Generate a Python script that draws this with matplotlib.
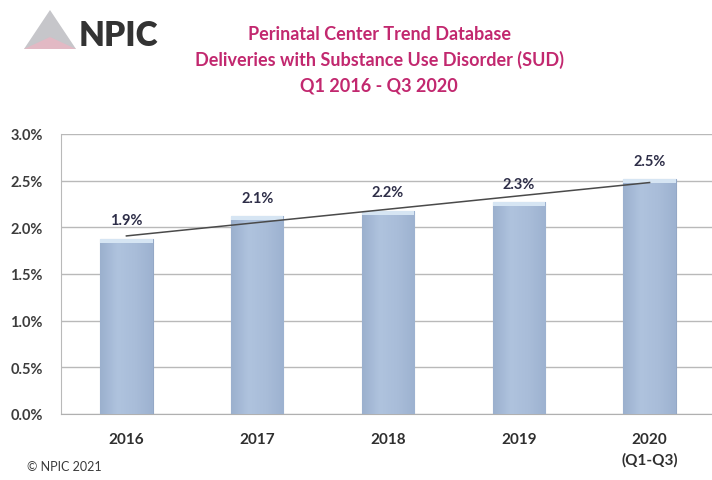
import numpy as np
import matplotlib
matplotlib.use("Agg")
import matplotlib.pyplot as plt
from matplotlib.patches import Polygon
from matplotlib.colors import LinearSegmentedColormap

plt.rcParams['font.family'] = ['Lato', 'DejaVu Sans']

# data
years = ['2016', '2017', '2018', '2019', '2020\n(Q1-Q3)']
sud_rate = [1.88, 2.12, 2.18, 2.27, 2.52]   # percent of deliveries
rate_labels = ['1.9%', '2.1%', '2.2%', '2.3%', '2.5%']
y_ticks = [0.0, 0.5, 1.0, 1.5, 2.0, 2.5, 3.0]

title_lines = ['Perinatal Center Trend Database',
               'Deliveries with Substance Use Disorder (SUD)',
               'Q1 2016 - Q3 2020']

fig = plt.figure(figsize=(7.12, 4.81), dpi=100)
ax = fig.add_axes([61 / 712, 66 / 481, 654 / 712, 280 / 481])

x = np.arange(len(years))
bar_w = 0.4

bars = ax.bar(x, sud_rate, width=bar_w, color='#a8bcd9', edgecolor='#94a8c6',
              linewidth=0.8, zorder=3)

# soft shading on each bar plus a light top rim
cmap = LinearSegmentedColormap.from_list('barshade',
                                         ['#9bb0ce', '#afc3de', '#a9bdd9', '#9db2d0'])
grad = np.tile(np.linspace(0, 1, 64), (64, 1))
cap = 0.045
for b in bars:
    x0, w, h = b.get_x(), b.get_width(), b.get_height()
    im = ax.imshow(grad, cmap=cmap, aspect='auto', extent=(x0, x0 + w, 0, h),
                   origin='lower', zorder=3.1)
    im.set_clip_path(b)
    ax.bar(b.get_x() + w / 2, cap, bottom=h - cap, width=w, color='#d6e5f3',
           edgecolor='none', zorder=3.2)

# linear trend line
k, c = np.polyfit(x, sud_rate, 1)
ax.plot(x, k * x + c, color='#4a4a4a', linewidth=1.1, zorder=4)

for xi, v, lab in zip(x, sud_rate, rate_labels):
    ax.annotate(lab, (xi, v), xytext=(0, 8), textcoords='offset points',
                ha='center', va='bottom', fontsize=10.5, fontweight='bold',
                color='#2e2e48', zorder=5)

ax.set_xlim(-0.5, len(years) - 0.5)
ax.set_ylim(0, 3.0)
ax.set_yticks(y_ticks)
ax.set_yticklabels([f'{t:.1f}%' for t in y_ticks], fontsize=10.5,
                   fontweight='bold', color='#3c3c3c')
ax.set_xticks(x)
ax.set_xticklabels(years, fontsize=11, fontweight='bold', color='#2f2f2f',
                   linespacing=1.5)
ax.tick_params(length=0, pad=13, axis='x')
ax.tick_params(length=0, pad=13, axis='y')
ax.grid(axis='y', color='#b9b9b9', linewidth=1.0, zorder=0)
for s in ['top', 'right']:
    ax.spines[s].set_visible(False)
ax.spines['left'].set_color('#b9b9b9')
ax.spines['bottom'].set_color('#b0b0b0')

# title
for i, line in enumerate(title_lines):
    fig.text(379 / 712, 1 - (34 + 26 * i) / 481, line, ha='center', va='center',
             fontsize=13, fontweight='bold', color='#c2286f')

# logo
tri = Polygon([(24 / 712, 1 - 50 / 481), (50 / 712, 1 - 11 / 481),
               (76 / 712, 1 - 50 / 481)], closed=True, transform=fig.transFigure,
              facecolor='#c6c6ca', edgecolor='none')
fig.patches.append(tri)
tri2 = Polygon([(24 / 712, 1 - 50 / 481), (50 / 712, 1 - 38 / 481),
                (76 / 712, 1 - 50 / 481)], closed=True, transform=fig.transFigure,
               facecolor='#e2b9c4', edgecolor='none')
fig.patches.append(tri2)
fig.text(79 / 712, 1 - 36 / 481, 'NPIC', ha='left', va='center', fontsize=24,
         fontweight='heavy', color='#333333')

fig.text(27 / 712, 1 - 467 / 481, '\u00a9 NPIC 2021', ha='left', va='center',
         fontsize=9, color='#3a3a3a')

fig.savefig('out.png', dpi=100)
